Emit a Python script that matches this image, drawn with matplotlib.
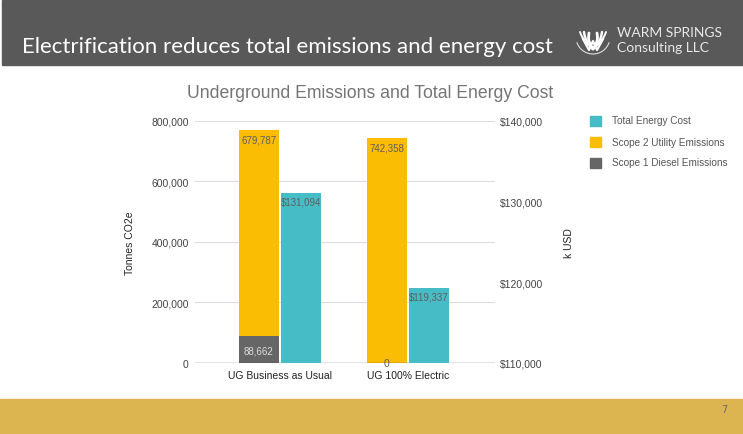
import matplotlib.pyplot as plt
import matplotlib.patches as mpatches
import numpy as np

# chart data
categories = ["UG Business as Usual", "UG 100% Electric"]
scope1_diesel = [88662, 0]
scope2_utility = [679787, 742358]
total_cost = [131094, 119337]

left_ticks = [0, 200000, 400000, 600000, 800000]
right_ticks = [110000, 120000, 130000, 140000]

W, H = 743, 435
C_TEAL = "#46bdc6"
C_ORANGE = "#fbbc04"
C_GRAY = "#666666"
C_TEXT = "#444444"


def fx(px):
    return px / W


def fy(py):
    # pixel from top -> figure fraction from bottom
    return 1 - py / H


fig = plt.figure(figsize=(W / 100, H / 100), dpi=100)
fig.patch.set_facecolor("white")

# header band and footer band
fig.patches.append(mpatches.Rectangle((fx(2), fy(66)), fx(741), 65 / H,
                                      transform=fig.transFigure, color="#595959", zorder=0))
fig.patches.append(mpatches.Rectangle((0, 0), 1, fy(400), transform=fig.transFigure,
                                      color="#dcb550", zorder=0))
fig.text(fx(22), fy(47), "Electrification reduces total emissions and energy cost",
         color="white", fontsize=16, family="Lato", va="center", ha="left")
fig.text(fx(724), fy(410), "7", color="#6a6a6a", fontsize=7, ha="center", va="center")

# logo (rough leaf/W mark)
cx, cy = 593, 38
th = np.linspace(np.radians(200), np.radians(340), 40)
fig.lines.append(plt.Line2D(fx(cx + 17 * np.cos(th)), fy(cy - 17 * np.sin(th)),
                            transform=fig.transFigure, color="#dddddd", lw=0.8))
for sgn in (-1, 1):
    for k, (dx, ln) in enumerate([(4, 16), (9, 13), (13, 9)]):
        t = np.linspace(0, 1, 20)
        xs = cx + sgn * (dx * t + 2 * np.sin(np.pi * t))
        ys = cy + 12 - (ln + 4 * k) * t
        fig.lines.append(plt.Line2D(fx(xs), fy(ys), transform=fig.transFigure,
                                    color="white", lw=2.0 - 0.3 * k, solid_capstyle="round"))
fig.lines.append(plt.Line2D(fx(np.array([cx - 10, cx - 4, cx, cx + 4, cx + 10])),
                            fy(np.array([cy + 2, cy + 13, cy + 4, cy + 13, cy + 2])),
                            transform=fig.transFigure, color="white", lw=1.6))
fig.text(fx(617), fy(33), "WARM SPRINGS", color="#e8e8e8", fontsize=10,
         family="Lato", va="center", ha="left")
fig.text(fx(617), fy(48), "Consulting LLC", color="#e8e8e8", fontsize=10,
         family="Lato", va="center", ha="left")

# chart title
fig.text(fx(370), fy(93), "Underground Emissions and Total Energy Cost", color="#757575",
         fontsize=12.7, family="Liberation Sans", ha="center", va="center")

ax = fig.add_axes([fx(195), fy(364), fx(300), (364 - 121.7) / H])
ax2 = ax.twinx()

x = np.arange(len(categories))
bw = 0.3125
off = bw / 2 + 0.008

ax.bar(x - off, scope1_diesel, bw, color=C_GRAY, zorder=3)
ax.bar(x - off, scope2_utility, bw, bottom=scope1_diesel, color=C_ORANGE, zorder=3)
ax2.bar(x + off, np.array(total_cost) - right_ticks[0], bw, bottom=right_ticks[0],
        color=C_TEAL, zorder=3)

ax.set_xlim(-0.664, 1.68)
ax.set_ylim(0, 800000)
ax2.set_ylim(110000, 140000)

ax.set_yticks(left_ticks)
ax.set_yticklabels([f"{v:,}" for v in left_ticks])
ax2.set_yticks(right_ticks)
ax2.set_yticklabels([f"${v:,}" for v in right_ticks])
ax.set_xticks(x)
ax.set_xticklabels(categories)

ax.grid(axis="y", color="#dddddd", lw=0.8, zorder=0)
ax.set_axisbelow(True)
for a in (ax, ax2):
    for s in a.spines.values():
        s.set_visible(False)
ax.axhline(0, color="#333333", lw=0.9, zorder=4)
ax.tick_params(axis="y", length=0, pad=4.5, labelsize=7.5, labelcolor=C_TEXT)
ax2.tick_params(axis="y", length=0, pad=3.5, labelsize=7.5, labelcolor=C_TEXT)
ax.tick_params(axis="x", length=0, pad=5, labelsize=7.5, labelcolor="#222222")
for lab in ax.get_yticklabels() + ax2.get_yticklabels() + ax.get_xticklabels():
    lab.set_family("Liberation Sans")

ax.set_ylabel("Tonnes CO2e", fontsize=7.5, color="#222222", family="Liberation Sans",
              labelpad=12)
ax2.set_ylabel("k USD", fontsize=7.5, color="#222222", family="Liberation Sans",
               rotation=90, labelpad=15)

# data labels
lblkw = dict(fontsize=7, color="#5f5f5f", ha="center", va="center",
             family="Liberation Sans", zorder=5)
for i in range(len(categories)):
    top = scope1_diesel[i] + scope2_utility[i]
    ax.text(x[i] - off, top - 30000, f"{scope2_utility[i]:,}", **lblkw)
    ax2.text(x[i] + off, total_cost[i] - 1100, f"${total_cost[i]:,}", **lblkw)
    if scope1_diesel[i] > 0:
        ax.text(x[i] - off, 40000, f"{scope1_diesel[i]:,}",
                **{**lblkw, "color": "#dddddd"})
    else:
        ax.text(x[i] - off, 0, f"{scope1_diesel[i]:,}", **{**lblkw, "fontsize": 7.5})

# legend
leg = [("Total Energy Cost", C_TEAL), ("Scope 2 Utility Emissions", C_ORANGE),
       ("Scope 1 Diesel Emissions", C_GRAY)]
for k, (name, col) in enumerate(leg):
    yy = 121.5 + k * 21
    fig.patches.append(mpatches.Rectangle((fx(590), fy(yy + 5)), fx(11), 10 / H,
                                          transform=fig.transFigure, color=col))
    fig.text(fx(612), fy(yy), name, fontsize=7.2, color="#555555",
             family="Liberation Sans", va="center", ha="left")

fig.savefig("out.png", dpi=100)
